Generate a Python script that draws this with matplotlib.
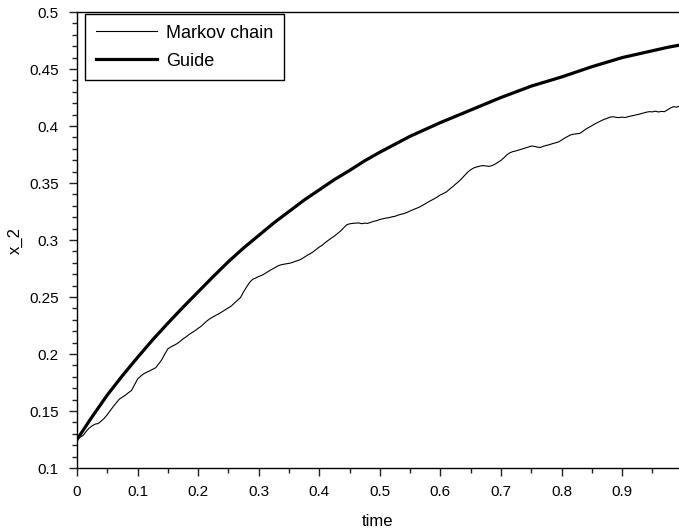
import numpy as np
import matplotlib
matplotlib.use("Agg")
import matplotlib.pyplot as plt
from matplotlib.ticker import MultipleLocator

plt.rcParams["font.family"] = ["Liberation Sans", "DejaVu Sans"]

# Markov chain trajectory, sampled every 0.005 in time
markov_step = 0.005
markov_x2 = [
    0.125, 0.127, 0.1285, 0.132, 0.135, 0.137, 0.1385, 0.139, 0.1412, 0.1436,
    0.1468, 0.1505, 0.154, 0.1572, 0.1605, 0.1622, 0.1639, 0.1661, 0.168, 0.173,
    0.178, 0.1805, 0.1826, 0.184, 0.1852, 0.1866, 0.188, 0.1914, 0.195, 0.2,
    0.2045, 0.2062, 0.2076, 0.209, 0.211, 0.2132, 0.215, 0.2171, 0.2188, 0.2205,
    0.2225, 0.2244, 0.2268, 0.2292, 0.2312, 0.2326, 0.2342, 0.2355, 0.2372, 0.2389,
    0.2405, 0.2422, 0.2448, 0.2471, 0.2496, 0.2545, 0.2588, 0.2628, 0.2655, 0.2666,
    0.268, 0.269, 0.2705, 0.2722, 0.2738, 0.2752, 0.2768, 0.278, 0.2786, 0.2791,
    0.2795, 0.2802, 0.2812, 0.282, 0.2832, 0.2848, 0.2866, 0.288, 0.2897, 0.2918,
    0.2938, 0.2955, 0.2978, 0.2998, 0.3017, 0.3035, 0.3056, 0.3078, 0.3105, 0.3132,
    0.3142, 0.3146, 0.3148, 0.315, 0.3143, 0.3148, 0.3146, 0.3155, 0.3164, 0.317,
    0.318, 0.3186, 0.3192, 0.3196, 0.3203, 0.3208, 0.3218, 0.3226, 0.3232, 0.3242,
    0.3255, 0.3266, 0.3278, 0.3288, 0.3302, 0.3318, 0.3334, 0.3348, 0.3362, 0.3378,
    0.3396, 0.3408, 0.3422, 0.3445, 0.3466, 0.349, 0.3512, 0.3538, 0.3566, 0.3595,
    0.3616, 0.3632, 0.3641, 0.3648, 0.3653, 0.365, 0.3646, 0.3652, 0.3665, 0.3682,
    0.3698, 0.3722, 0.3748, 0.3766, 0.3776, 0.3782, 0.379, 0.3799, 0.3806, 0.3815,
    0.3824, 0.3822, 0.3815, 0.3812, 0.3822, 0.383, 0.3836, 0.3845, 0.3852, 0.386,
    0.3876, 0.3894, 0.3908, 0.3922, 0.3928, 0.3932, 0.3935, 0.3952, 0.3972, 0.3988,
    0.4002, 0.4018, 0.4032, 0.4045, 0.4058, 0.4066, 0.4078, 0.4082, 0.4076, 0.4074,
    0.4078, 0.4074, 0.4082, 0.4088, 0.4094, 0.41, 0.4106, 0.4114, 0.4121, 0.4126,
    0.4124, 0.413, 0.4123, 0.4128, 0.4126, 0.4142, 0.4158, 0.417, 0.4165, 0.4175,
]
markov_time = np.arange(len(markov_x2)) * markov_step

# deterministic guide
guide_time = [
    0.0, 0.025, 0.05, 0.075, 0.1, 0.125, 0.15, 0.175, 0.2, 0.225, 0.25, 0.275,
    0.3, 0.325, 0.35, 0.375, 0.4, 0.425, 0.45, 0.475, 0.5, 0.525, 0.55, 0.575,
    0.6, 0.625, 0.65, 0.675, 0.7, 0.725, 0.75, 0.775, 0.8, 0.825, 0.85, 0.875,
    0.9, 0.925, 0.95, 0.975, 0.995,
]
guide_x2 = [
    0.125, 0.145, 0.164, 0.181, 0.197, 0.2125, 0.227, 0.241, 0.2545, 0.268, 0.281,
    0.293, 0.304, 0.315, 0.325, 0.335, 0.344, 0.353, 0.361, 0.3695, 0.377, 0.384,
    0.391, 0.397, 0.403, 0.4085, 0.414, 0.4195, 0.425, 0.430, 0.435, 0.439,
    0.443, 0.4475, 0.452, 0.456, 0.460, 0.463, 0.466, 0.469, 0.471,
]

fig = plt.figure(figsize=(6.79, 5.32), dpi=100)
ax = fig.add_axes([0.1134, 0.1203, 0.8866, 0.8571])

ax.plot(markov_time, markov_x2, color="black", lw=0.8, label="Markov chain")
ax.plot(guide_time, guide_x2, color="black", lw=2.3, label="Guide")

ax.set_xlim(0, 0.994)
ax.set_ylim(0.1, 0.5)
ax.xaxis.set_major_locator(MultipleLocator(0.1))
ax.xaxis.set_minor_locator(MultipleLocator(0.05))
ax.yaxis.set_major_locator(MultipleLocator(0.05))
ax.yaxis.set_minor_locator(MultipleLocator(0.01))
ax.xaxis.set_major_formatter(lambda v, p: f"{v:g}")
ax.yaxis.set_major_formatter(lambda v, p: f"{v:g}")
ax.tick_params(which="both", direction="out", top=False, right=False,
               labelsize=11, width=1, color="#222222")
ax.tick_params(axis="x", which="major", length=6, pad=6)
ax.tick_params(axis="y", which="major", length=6, pad=7)
ax.tick_params(which="minor", length=3.5)
ax.spines["right"].set_visible(False)
for s in ("top", "bottom", "left"):
    ax.spines[s].set_linewidth(1.0)

ax.set_xlabel("time", fontsize=12, labelpad=11)
ax.set_ylabel("x_2", fontsize=12, labelpad=5)

leg = ax.legend(loc="upper left", bbox_to_anchor=(0.013, 0.996), borderaxespad=0,
                fontsize=13, handlelength=3.4, handletextpad=0.5,
                fancybox=False, framealpha=1, edgecolor="black",
                borderpad=0.6, labelspacing=0.6)
leg.get_frame().set_linewidth(1.0)

fig.savefig("out.png", dpi=100)
